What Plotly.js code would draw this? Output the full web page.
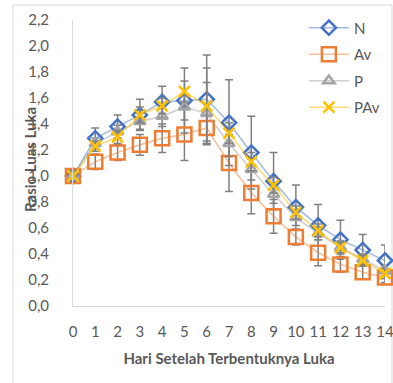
<!DOCTYPE html>
<html>
<head>
<meta charset="utf-8">
<script src="https://cdn.plot.ly/plotly-3.0.1.min.js"></script>
<style>
html,body{margin:0;padding:0;background:#fff;}
#chart{width:393px;height:383px;}
</style>
</head>
<body>
<div id="chart"></div>
<script>
const days = [0,1,2,3,4,5,6,7,8,9,10,11,12,13,14];
const seriesNames = ["N","Av","P","PAv"];
const valN   = [1.00,1.29,1.38,1.47,1.57,1.58,1.59,1.41,1.18,0.96,0.76,0.62,0.51,0.43,0.35];
const valAv  = [1.00,1.11,1.18,1.24,1.29,1.32,1.37,1.10,0.87,0.69,0.53,0.41,0.32,0.26,0.22];
const valP   = [1.00,1.25,1.34,1.42,1.46,1.53,1.48,1.25,1.05,0.86,0.68,0.56,0.45,0.36,0.27];
const valPAv = [1.00,1.23,1.30,1.47,1.54,1.65,1.54,1.33,1.11,0.93,0.72,0.58,0.45,0.35,0.25];
const errN   = [0,0.08,0.09,0.12,0.12,0.25,0.34,0.33,0.28,0.22,0.17,0.16,0.15,0.12,0.12];
const errAv  = [0,0.06,0.06,0.08,0.11,0.20,0.10,0.22,0.16,0.13,0.06,0.10,0.06,0.05,0.04];
const errP   = [0,0.04,0.05,0.06,0.08,0.10,0.24,0.10,0.08,0.07,0.06,0.05,0.05,0.04,0.04];
const errPAv = [0,0.04,0.05,0.06,0.06,0.08,0.29,0.08,0.07,0.06,0.05,0.05,0.04,0.04,0.04];
const yTickVals = [0,0.2,0.4,0.6,0.8,1.0,1.2,1.4,1.6,1.8,2.0,2.2];
const yTickText = ["0,0","0,2","0,4","0,6","0,8","1,0","1,2","1,4","1,6","1,8","2,0","2,2"];
const xTitle = "Hari Setelah Terbentuknya Luka";
const yTitle = "Rasio Luas Luka";

const vals = [valN, valAv, valP, valPAv];
const errs = [errN, errAv, errP, errPAv];
const colors = ["#4472C4","#ED7D31","#A5A5A5","#FFC000"];
const lineColors = ["rgba(68,114,196,0.5)","rgba(237,125,49,0.5)","rgba(165,165,165,0.55)","rgba(255,192,0,0.55)"];
const symbols = ["diamond-open","square-open","triangle-up-open","x-thin-open"];
const sizes = [11,14,10,11];

const traces = seriesNames.map((nm,i)=>({
  x: days, y: vals[i], name: nm, type: "scatter", mode: "lines+markers",
  legendgroup: nm,
  line: {color: lineColors[i], width: 1.5},
  marker: {symbol: symbols[i], size: sizes[i], color: colors[i], line: {color: colors[i], width: 2.5}},
  error_y: {type: "data", array: errs[i], visible: true, color: "#808080", thickness: 1.5, width: 4},
  cliponaxis: false
}));

const layout = {
  width: 393, height: 383,
  margin: {l: 73, r: 8, t: 20, b: 77},
  paper_bgcolor: "#fff", plot_bgcolor: "#fff",
  font: {family: "Lato, 'Open Sans', sans-serif", color: "#595959", size: 14},
  showlegend: true,
  legend: {x: 0.74, y: 1.03, xanchor: "left", yanchor: "top", bgcolor: "rgba(0,0,0,0)",
           font: {size: 15, color: "#595959"}, tracegroupgap: 4, itemwidth: 40},
  xaxis: {
    range: [0, 14], tickvals: days, ticktext: days.map(String),
    showgrid: false, zeroline: false, showline: true, linecolor: "#D9D9D9", linewidth: 1,
    ticks: "", ticklen: 0, tickfont: {size: 15, color: "#595959"}, ticklabelstandoff: 12,
    ticklabeloverflow: "allow",
    title: {text: xTitle, font: {size: 15, color: "#595959", weight: "bold"}, standoff: 14}
  },
  yaxis: {
    range: [0, 2.2], tickvals: yTickVals, ticktext: yTickText,
    showgrid: false, zeroline: false, showline: true, linecolor: "#D9D9D9", linewidth: 1,
    ticks: "", tickfont: {size: 15, color: "#595959"}, ticklabelstandoff: 20
  },
  annotations: [{text: yTitle, xref: "paper", yref: "paper", x: (30-73)/312, y: (306-160)/286,
                 xanchor: "center", yanchor: "middle", textangle: -90, showarrow: false,
                 font: {size: 15, color: "#595959", weight: "bold"}}],
  shapes: [{type: "rect", xref: "paper", yref: "paper",
            x0: (13-73)/312, x1: (392-73)/312, y0: (306-392)/286, y1: (306-5)/286,
            line: {color: "#D9D9D9", width: 1}, fillcolor: "rgba(0,0,0,0)", layer: "below"}]
};

Plotly.newPlot("chart", traces, layout, {staticPlot: true, displayModeBar: false});
</script>
</body>
</html>
